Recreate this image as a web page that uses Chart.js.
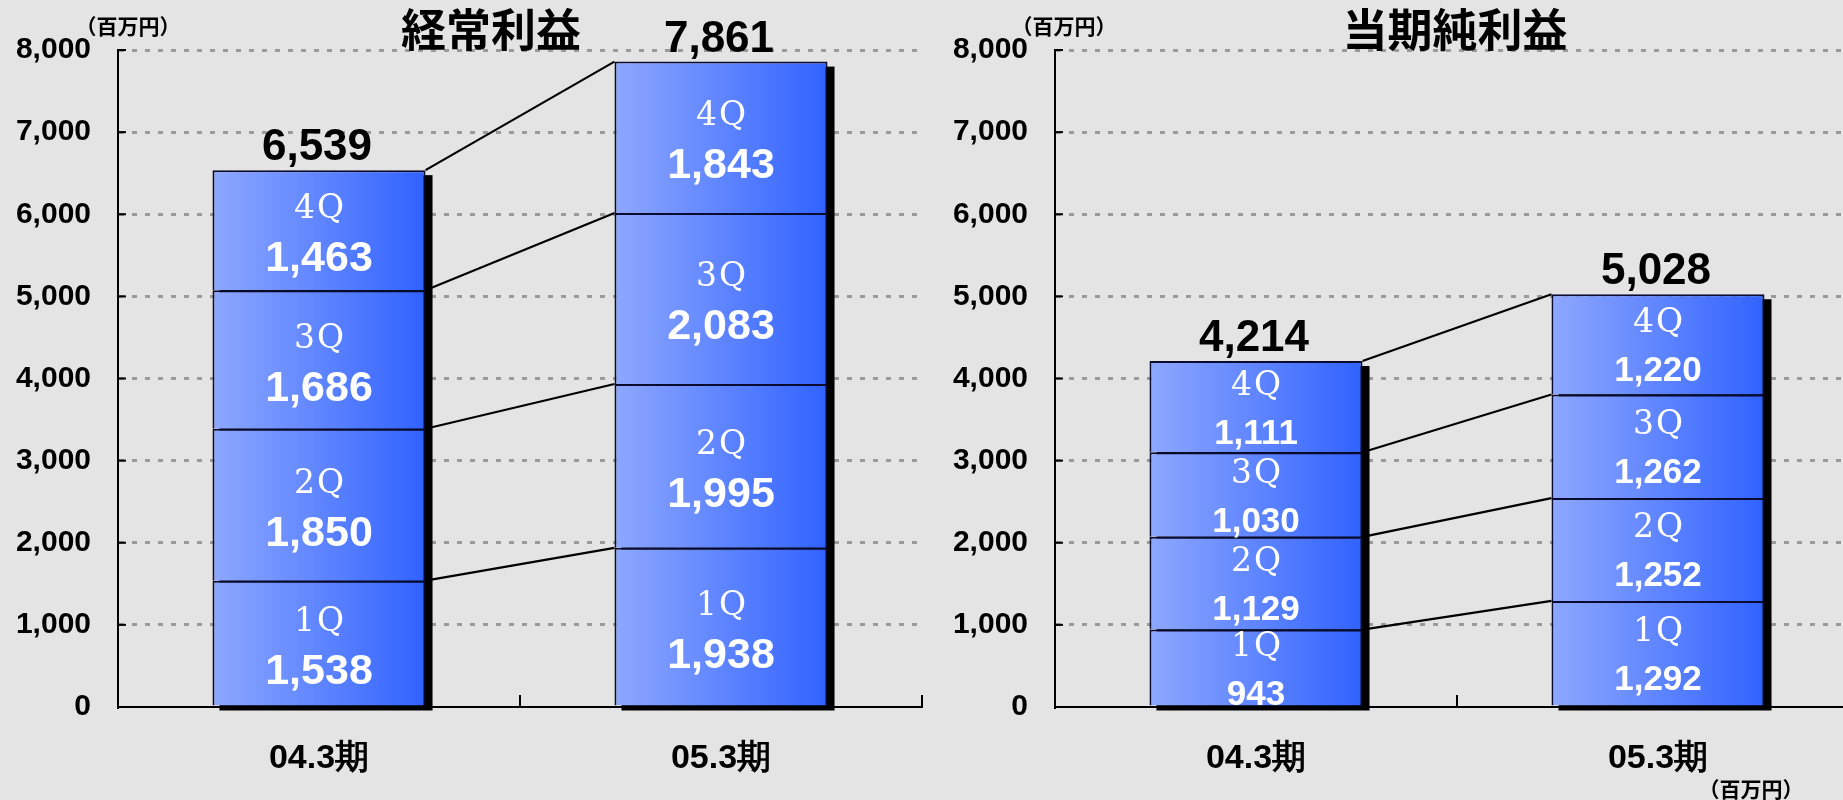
<!DOCTYPE html>
<html>
<head>
<meta charset="utf-8">
<title>経常利益・当期純利益</title>
<script src="https://cdn.jsdelivr.net/npm/chart.js@4.4.1/dist/chart.umd.min.js"></script>
<style>
    html, body {
        margin: 0;
        padding: 0;
        width: 1843px;
        height: 800px;
        overflow: hidden;
        background: #e4e4e4;
    }
    canvas {
        position: absolute;
        top: 0;
    }
    #ordinaryChart { left: 0; }
    #netChart { left: 935px; }
</style>
</head>
<body>
<canvas id="ordinaryChart" width="940" height="800"></canvas>
<canvas id="netChart" width="925" height="800"></canvas>
<script>
// Data (百万円)
const periods = ['04.3期', '05.3期'];
const quarterNames = ['1Q', '2Q', '3Q', '4Q'];
const yTickValues = [0, 1000, 2000, 3000, 4000, 5000, 6000, 7000, 8000];

// 経常利益
const ordinaryQ1 = [1538, 1938];
const ordinaryQ2 = [1850, 1995];
const ordinaryQ3 = [1686, 2083];
const ordinaryQ4 = [1463, 1843];
const ordinaryTotal = [6539, 7861];

// 当期純利益
const netQ1 = [943, 1292];
const netQ2 = [1129, 1252];
const netQ3 = [1030, 1262];
const netQ4 = [1111, 1220];
const netTotal = [4214, 5028];

const BAR_PCT = 0.53;
const SANS = "'Liberation Sans', Arial, sans-serif";
const CJK = "'Noto Sans CJK JP', sans-serif";

function fmt(v) {
    return v.toLocaleString('en-US');
}

/**
 * Horizontal gradient across each bar, light blue on the left to deep blue on the right
 */
function barGradient(context) {
    const chart = context.chart;
    const xScale = chart.scales.x;
    if (!chart.chartArea || !xScale) return '#5a7fff';
    const cx = xScale.getPixelForValue(context.dataIndex);
    const half = (xScale.width / chart.data.labels.length) * BAR_PCT / 2;
    const g = chart.ctx.createLinearGradient(cx - half, 0, cx + half, 0);
    g.addColorStop(0, '#8ea8ff');
    g.addColorStop(1, '#3062ff');
    return g;
}

// Shadows, connector lines, segment labels, totals, title and units
const stackDecor = {
    id: 'stackDecor',
    beforeDatasetsDraw(chart) {
        const ctx = chart.ctx;
        const n = chart.data.labels.length;
        const first = chart.getDatasetMeta(0);
        const last = chart.getDatasetMeta(chart.data.datasets.length - 1);
        ctx.save();
        ctx.fillStyle = '#000';
        for (let i = 0; i < n; i++) {
            const top = last.data[i];
            const bot = first.data[i];
            ctx.fillRect(top.x - top.width / 2 + 7, top.y + 5, top.width, bot.base - top.y);
        }
        ctx.restore();
    },
    afterDatasetsDraw(chart, args, opts) {
        const ctx = chart.ctx;
        const sets = chart.data.datasets;
        ctx.save();

        // connector lines between the two stacks
        ctx.strokeStyle = '#000';
        ctx.lineWidth = 2.2;
        sets.forEach((ds, k) => {
            const meta = chart.getDatasetMeta(k);
            const a = meta.data[0];
            const b = meta.data[1];
            ctx.beginPath();
            ctx.moveTo(a.x + a.width / 2, a.y);
            ctx.lineTo(b.x - b.width / 2, b.y);
            ctx.stroke();
        });

        // segment labels
        ctx.fillStyle = '#fff';
        ctx.textAlign = 'center';
        ctx.textBaseline = 'alphabetic';
        sets.forEach((ds, k) => {
            const meta = chart.getDatasetMeta(k);
            meta.data.forEach((el, i) => {
                const cy = (el.y + el.base) / 2;
                ctx.font = "33px 'DejaVu Serif', serif";
                ctx.letterSpacing = '2px';
                ctx.fillText(quarterNames[k], el.x + 1, cy - 12);
                ctx.letterSpacing = '0px';
                ctx.font = `bold ${opts.valueSize}px ${SANS}`;
                ctx.fillText(fmt(ds.data[i]), el.x, cy + opts.valueDy);
            });
        });

        // totals above the stacks
        const lastMeta = chart.getDatasetMeta(sets.length - 1);
        ctx.fillStyle = '#000';
        ctx.font = `bold 44px ${SANS}`;
        lastMeta.data.forEach((el, i) => {
            ctx.fillText(fmt(opts.totals[i]), el.x - 2, el.y - 10);
        });
        ctx.restore();
    },
    afterDraw(chart, args, opts) {
        const ctx = chart.ctx;
        const area = chart.chartArea;
        const yScale = chart.scales.y;
        const xScale = chart.scales.x;
        ctx.save();

        // short solid ticks inside the y axis
        ctx.strokeStyle = '#000';
        ctx.lineWidth = 2;
        yScale.ticks.forEach(t => {
            if (t.value === 0) return;
            const y = yScale.getPixelForValue(t.value);
            ctx.beginPath();
            ctx.moveTo(area.left, y);
            ctx.lineTo(area.left + 8, y);
            ctx.stroke();
        });

        // upward ticks at category boundaries on the x axis
        const catW = xScale.width / chart.data.labels.length;
        chart.data.labels.forEach((lab, i) => {
            const x = xScale.getPixelForValue(i) + catW / 2;
            ctx.beginPath();
            ctx.moveTo(x, area.bottom);
            ctx.lineTo(x, area.bottom - 12);
            ctx.stroke();
        });

        // title
        ctx.fillStyle = '#000';
        ctx.textAlign = 'center';
        ctx.textBaseline = 'middle';
        ctx.font = `bold 45px ${CJK}`;
        ctx.fillText(opts.title, opts.titleX, 30);

        // unit labels
        ctx.font = `bold 21px ${CJK}`;
        opts.units.forEach(u => ctx.fillText('（百万円）', u[0], u[1]));
        ctx.restore();
    }
};

function makeDatasets(q1, q2, q3, q4) {
    return [q1, q2, q3, q4].map((vals, k) => ({
        label: quarterNames[k],
        data: vals,
        backgroundColor: barGradient,
        borderColor: '#0b0b30',
        borderWidth: 2,
        barPercentage: BAR_PCT,
        categoryPercentage: 1
    }));
}

function createChart(canvasId, datasets, axisWidth, padRight, decor) {
    return new Chart(document.getElementById(canvasId), {
        type: 'bar',
        data: { labels: periods, datasets: datasets },
        options: {
            responsive: false,
            animation: false,
            devicePixelRatio: 1,
            layout: { padding: { top: 50, right: padRight, left: 0, bottom: 0 } },
            plugins: {
                legend: { display: false },
                tooltip: { enabled: false },
                stackDecor: decor
            },
            scales: {
                x: {
                    stacked: true,
                    offset: true,
                    grid: { display: false, drawTicks: false },
                    border: { display: true, color: '#000', width: 2 },
                    ticks: {
                        color: '#000',
                        padding: 31,
                        font: { family: SANS, size: 34, weight: 'bold' }
                    },
                    afterFit: scale => { scale.height = 93; }
                },
                y: {
                    stacked: true,
                    min: 0,
                    max: 8000,
                    afterBuildTicks: scale => {
                        scale.ticks = yTickValues.map(v => ({ value: v }));
                    },
                    grid: {
                        drawTicks: false,
                        lineWidth: 3,
                        color: ctx => (ctx.tick && ctx.tick.value === 0) ? 'rgba(0,0,0,0)' : '#9a9a9a'
                    },
                    border: { display: true, color: '#000', width: 2, dash: [5, 8] },
                    ticks: {
                        color: '#000',
                        padding: 27,
                        font: { family: SANS, size: 30, weight: 'bold' },
                        callback: v => fmt(v)
                    },
                    afterFit: scale => { scale.width = axisWidth; }
                }
            }
        },
        plugins: [stackDecor]
    });
}

createChart('ordinaryChart', makeDatasets(ordinaryQ1, ordinaryQ2, ordinaryQ3, ordinaryQ4), 118, 18, {
    title: '経常利益',
    titleX: 491,
    totals: ordinaryTotal,
    valueSize: 43,
    valueDy: 41,
    units: [[128, 26]]
});

createChart('netChart', makeDatasets(netQ1, netQ2, netQ3, netQ4), 120, 1, {
    title: '当期純利益',
    titleX: 520,
    totals: netTotal,
    valueSize: 35,
    valueDy: 37,
    units: [[129, 26], [816, 789]]
});
</script>
</body>
</html>
